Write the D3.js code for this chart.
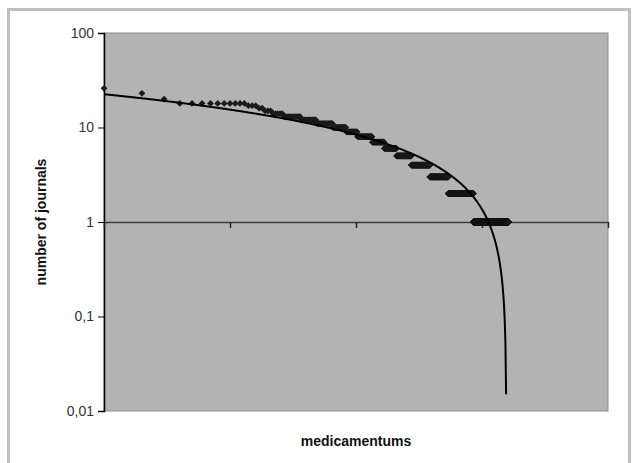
<!DOCTYPE html>
<html>
<head>
<meta charset="utf-8">
<script src="https://cdn.jsdelivr.net/npm/d3@7"></script>
<style>
  body { margin: 0; background: #fff; }
  text { font-family: "Liberation Sans", Arial, sans-serif; }
</style>
</head>
<body>
<svg id="chart" width="636" height="463"></svg>
<script>
// number of journals per medicament, and how many medicaments share that count
var journalCounts = [26, 23, 20, 18, 17, 16, 15, 14, 13, 12, 11, 10, 9, 8, 7, 6, 5, 4, 3, 2, 1];
var medicamentsPerCount = [1, 1, 1, 10, 3, 2, 3, 5, 10, 12, 17, 18, 19, 32, 33, 42, 65, 111, 154, 313, 768];

var yTicks = [0.01, 0.1, 1, 10, 100];
var yTickLabels = ["0,01", "0,1", "1", "10", "100"];
var xTicks = [1, 10, 100, 1000, 10000];

// logarithmic trendline: y = a + b*ln(rank)
var trendIntercept = 22.5,
    trendSlope = -3.06,
    trendEndValue = 0.015;

var svg = d3.select('#chart');

// rank points: every medicament gets a rank in order of decreasing count
var points = [], rank = 1;
journalCounts.forEach(function(v, i){
  for (var k = 0; k < medicamentsPerCount[i]; k++) points.push({rank: rank++, value: v});
});

var plotL = 104, plotR = 608, plotT = 33, plotB = 411;
var x = d3.scaleLog().domain([1, 10000]).range([plotL, plotR]);
var y = d3.scaleLog().domain([0.01, 100]).range([plotB, plotT]);

// outer chart border
svg.append('rect')
  .attr('x', 8.5).attr('y', 9.5).attr('width', 621).attr('height', 470)
  .style('fill', '#fff').style('stroke', '#c0c0c0').style('stroke-width', 3);

// plot area
svg.append('rect')
  .attr('x', plotL).attr('y', plotT).attr('width', plotR - plotL).attr('height', plotB - plotT)
  .style('fill', '#b3b3b3').style('stroke', '#8c8c8c').style('stroke-width', 1);

// y axis
var yAxis = svg.append('g').attr('transform', 'translate(' + plotL + ',0)')
  .call(d3.axisLeft(y).tickValues(yTicks).tickSize(6).tickPadding(4)
    .tickFormat(function(d, i){ return yTickLabels[i]; }));
yAxis.select('.domain').style('stroke', '#000').style('stroke-width', 1.5);
yAxis.selectAll('.tick line').style('stroke', '#000');
yAxis.selectAll('.tick text')
  .style('font-size', '14px').style('fill', '#333')
  .style('font-family', '"Liberation Sans", Arial, sans-serif');

// x axis crossing at 1, no labels
var xAxis = svg.append('g').attr('transform', 'translate(0,' + y(1) + ')')
  .call(d3.axisBottom(x).tickValues(xTicks).tickSize(6).tickSizeOuter(0).tickFormat(''));
xAxis.select('.domain').style('stroke', '#3c3c3c').style('stroke-width', 1.5);
xAxis.selectAll('.tick line').style('stroke', '#222').style('stroke-width', 1.5);

// data markers
var r = 3.4;
svg.append('g').selectAll('path').data(points).enter().append('path')
  .attr('d', 'M0,' + (-r) + 'L' + r + ',0L0,' + r + 'L' + (-r) + ',0Z')
  .attr('transform', function(d){ return 'translate(' + x(d.rank) + ',' + y(d.value) + ')'; })
  .style('fill', '#1a1a1a');

// trendline
var lnEnd = (trendEndValue - trendIntercept) / trendSlope;
var trend = d3.range(0, 601).map(function(i){
  var ln = lnEnd * i / 600;
  return {rank: Math.exp(ln), value: trendIntercept + trendSlope * ln};
});
svg.append('path').datum(trend)
  .attr('d', d3.line().x(function(d){ return x(d.rank); }).y(function(d){ return y(d.value); }))
  .style('fill', 'none').style('stroke', '#000').style('stroke-width', 2);

// axis titles
svg.append('text')
  .attr('transform', 'translate(46,' + ((plotT + plotB) / 2) + ')rotate(-90)')
  .attr('text-anchor', 'middle')
  .style('font-size', '14px').style('font-weight', 'bold').style('fill', '#111')
  .text('number of journals');

svg.append('text')
  .attr('x', (plotL + plotR) / 2).attr('y', 446)
  .attr('text-anchor', 'middle')
  .style('font-size', '14px').style('font-weight', 'bold').style('fill', '#111')
  .text('medicamentums');
</script>
</body>
</html>
